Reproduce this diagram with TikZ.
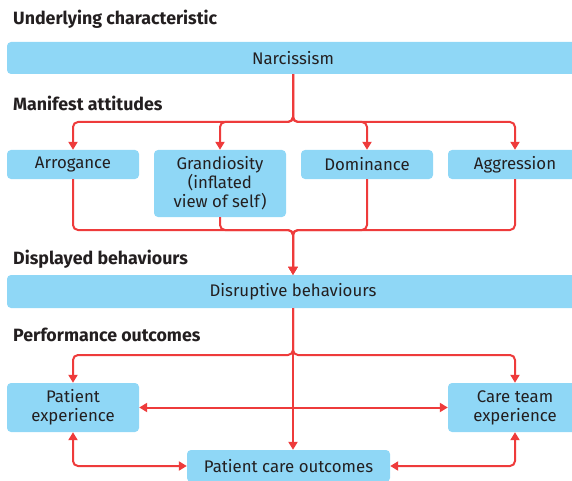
\documentclass[tikz,border=0pt]{standalone}
\usepackage{fontspec}
\setmainfont{Fira Sans}
\usetikzlibrary{arrows.meta}
\definecolor{boxblue}{HTML}{8FD7F6}
\definecolor{linkred}{HTML}{EE3B3B}
\definecolor{textgrey}{HTML}{231F20}
\tikzset{
  cbox/.style = {rectangle, rounded corners=4pt, fill=boxblue, text=textgrey, align=center, inner sep=0pt, font=\fontsize{16.8}{19}\selectfont},
  chead/.style = {anchor=west, text=textgrey, inner sep=0pt, font=\bfseries\fontsize{17.8}{20}\selectfont},
  link/.style = {draw=linkred, line width=2pt, rounded corners=5pt},
  arr/.style = {link, -{Triangle[width=9pt,length=8pt]}},
  darr/.style = {link, {Triangle[width=9pt,length=8pt]}-{Triangle[width=9pt,length=8pt]}},
}

\begin{document}
\begin{tikzpicture}[x=1pt,y=-1pt]
\useasboundingbox (0,0) rectangle (572,481);
\clip (0,0) rectangle (572,481);
% headings
\node [chead] (hchar) at (13,19) {Underlying characteristic};
\node [chead] (hatt) at (13,103) {Manifest attitudes};
\node [chead] (hbeh) at (13,259) {Displayed behaviours};
\node [chead] (hout) at (13,335) {Performance outcomes};
% boxes
\node [cbox, minimum width=572pt, minimum height=32pt] (nar) at (293,58) {Narcissism};
\node [cbox, minimum width=132pt, minimum height=29pt] (arro) at (73,164.5) {Arrogance};
\node [cbox, minimum width=132pt, minimum height=67pt] (gran) at (220,183.5) {Grandiosity\\(inflated\\view of self)};
\node [cbox, minimum width=132pt, minimum height=29pt] (domi) at (367,164.5) {Dominance};
\node [cbox, minimum width=134pt, minimum height=29pt] (aggr) at (515,164.5) {Aggression};
\node [cbox, minimum width=572pt, minimum height=33pt] (disr) at (293,291.5) {Disruptive behaviours};
\node [cbox, minimum width=132pt, minimum height=49pt] (pexp) at (73,407.5) {Patient\\experience};
\node [cbox, minimum width=134pt, minimum height=49pt] (cexp) at (515,407.5) {Care team\\experience};
\node [cbox, minimum width=203pt, minimum height=32pt] (pcare) at (288.5,466) {Patient care outcomes};
% split and merge points
\coordinate (split1) at (293,122);
\coordinate (merge1) at (293,230);
\coordinate (split2) at (293,355);
% connectors
\foreach \n in {arro,gran,domi,aggr} {
  \draw [arr] (nar.south) -- (split1) -| (\n.north);
  \draw [arr] (\n.south) |- (merge1) -- (disr.north);
}
\draw [arr] (disr.south) -- (split2) -| (pexp.north);
\draw [arr] (disr.south) -- (split2) -| (cexp.north);
\draw [arr] (disr.south) -- (disr.south |- pcare.north);
\draw [darr] (pexp.east) -- (cexp.west);
\draw [darr] (pexp.south) |- (pcare.west);
\draw [darr] (cexp.south) |- (pcare.east);
\end{tikzpicture}
\end{document}
